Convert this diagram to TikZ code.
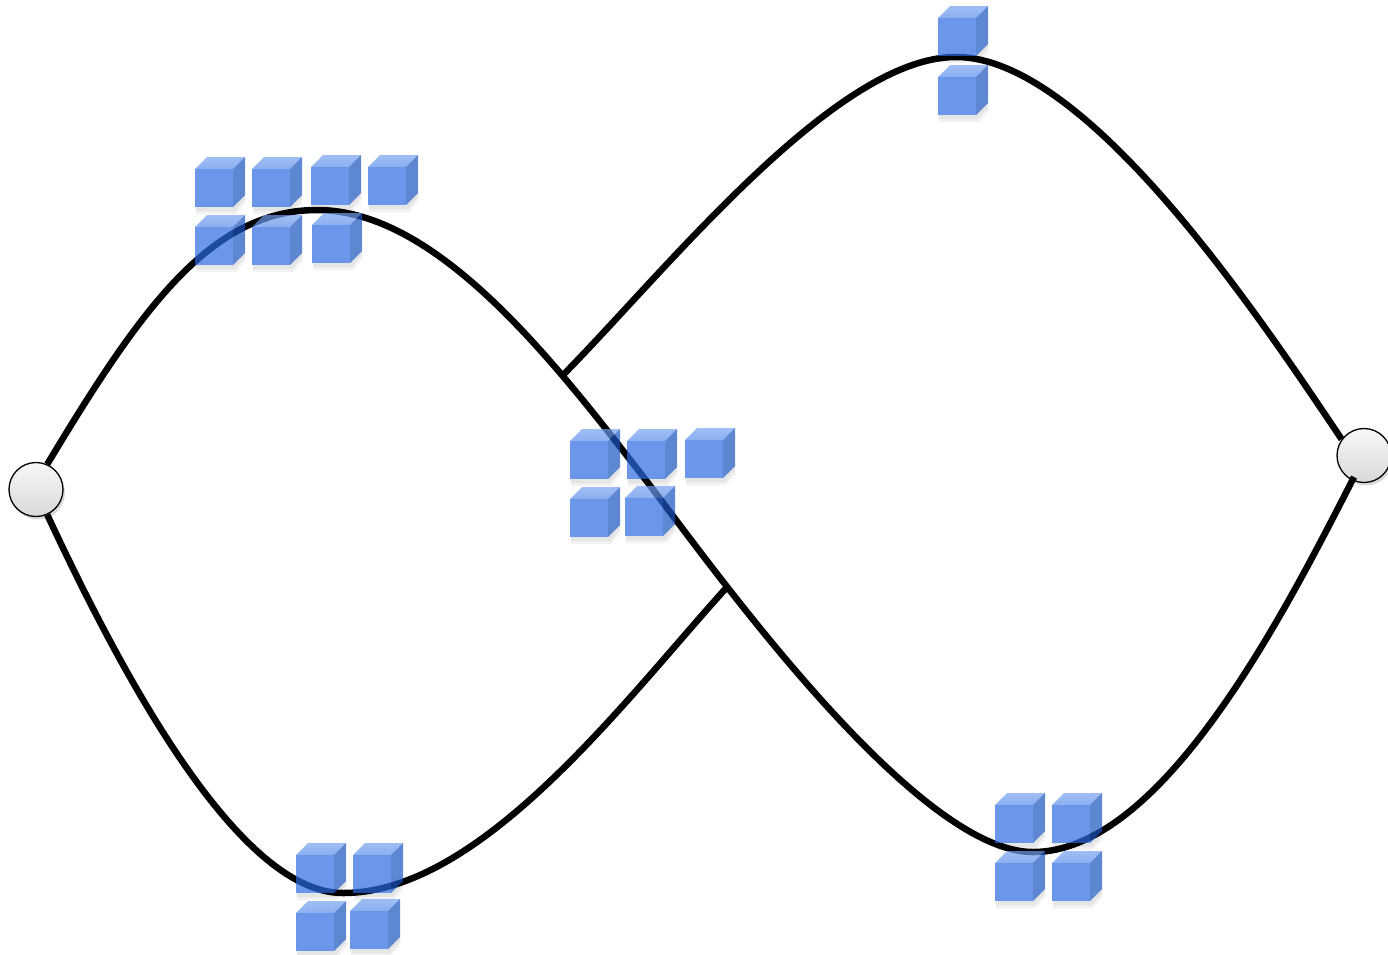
\documentclass[tikz,border=0pt]{standalone}
\usetikzlibrary{shadows}

% translucent cube faces (composite over white gives the light blue tones)
\definecolor{cubefront}{HTML}{2C6AE1}
\definecolor{cubetop}{HTML}{5B8DEA}
\definecolor{cubetoplight}{HTML}{77A2F1}
\definecolor{cubeside}{HTML}{1A54BF}

\tikzset{
  wire/.style={line width=6.5pt, black},
  endpoint/.style={circle, minimum size=54pt, inner sep=0pt, draw=black,
    line width=1.3pt, top color=gray!6, bottom color=gray!30,
    drop shadow={opacity=0.3, shadow xshift=2pt, shadow yshift=-3pt}},
  cubeface/.style={fill opacity=0.7},
  cube/.pic={
    % soft shadow along the lower edges
    \fill[black, opacity=0.10] (1,38) -- (38,38) -- (50,26) -- (50,30) -- (40,42) -- (1,42) -- cycle;
    \fill[black, opacity=0.05] (1,42) -- (40,42) -- (50,30) -- (51,33) -- (41,45) -- (1,45) -- cycle;
    % faces
    \fill[cubefront, cubeface] (0,0) rectangle (38,38);
    \shade[top color=cubetoplight, bottom color=cubetop, cubeface]
      (0,0) -- (12,-12) -- (50,-12) -- (38,0) -- cycle;
    \fill[cubeside, cubeface] (38,0) -- (50,-12) -- (50,26) -- (38,38) -- cycle;
  }
}

\begin{document}
\begin{tikzpicture}[x=1pt, y=-1pt]
  \useasboundingbox (0,0) rectangle (1388,954);

  % end points
  \node[endpoint] (L) at (36,489.5) {};
  \node[endpoint] (R) at (1364,455.5) {};

  % crossing points and extrema
  \coordinate (Xup) at (564,374);
  \coordinate (Xdn) at (728,586);
  \coordinate (topA) at (317,210);
  \coordinate (midA) at (645,479);
  \coordinate (botA) at (1033,852);
  \coordinate (botB) at (343,893);
  \coordinate (topC) at (956,57);
  \coordinate (Rin) at (1354,477);

  % main strand: left, over the hump, through the crossing, down and up to the right
  \draw[wire] (L.66) .. controls (140,310) and (210,210) .. (topA)
    .. controls (437,210) and (553,360) .. (midA)
    .. controls (706,558) and (913,852) .. (botA)
    .. controls (1163,852) and (1285,612) .. (Rin);

  % lower-left strand into the crossing
  \draw[wire] (L.-66) .. controls (111,651) and (233,893) .. (botB)
    .. controls (483,893) and (627,697) .. (Xdn);

  % upper-right strand from the crossing to the right end point
  \draw[wire] (Xup) .. controls (669,267) and (836,57) .. (topC)
    .. controls (1086,57) and (1257,313) .. (R.144);

  % cube clusters
  \foreach \p in {(195,169),(252,169),(311,167),(368,167),(195,227),(252,227),(312,225)}
    \pic at \p {cube};
  \foreach \p in {(570,441),(627,441),(685,440),(570,499),(625,498)}
    \pic at \p {cube};
  \foreach \p in {(938,18),(938,77)}
    \pic at \p {cube};
  \foreach \p in {(995,805),(1052,805),(995,863),(1052,863)}
    \pic at \p {cube};
  \foreach \p in {(296,855),(353,855),(296,913),(350,911)}
    \pic at \p {cube};
\end{tikzpicture}
\end{document}
